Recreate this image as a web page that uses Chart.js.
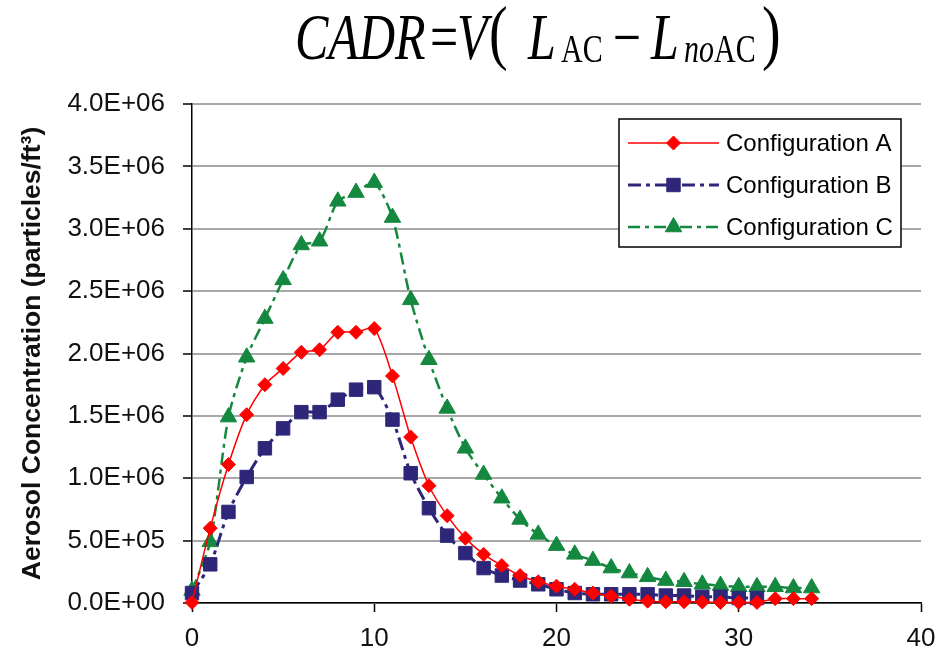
<!DOCTYPE html>
<html>
<head>
<meta charset="utf-8">
<script src="https://cdn.jsdelivr.net/npm/chart.js@4/dist/chart.umd.min.js"></script>
<style>
html,body{margin:0;padding:0;background:#fff;}
#wrap{position:relative;width:937px;height:658px;overflow:hidden;}
#c{position:absolute;left:0;top:0;}
#title{position:absolute;left:0;top:0;width:937px;height:70px;
  font-family:"Liberation Serif","Times New Roman",serif;color:#000;white-space:nowrap;
  transform:scaleY(1.3);transform-origin:0 0;}
#title span{position:absolute;line-height:1;}
#title .it{font-style:italic;}
#title .big{font-size:50px;top:2.7px;}
#title .sub{font-size:30px;top:22.6px;}
#title .par{font-size:56px;top:-4px;}
</style>
</head>
<body>
<div id="wrap">
<canvas id="c" width="937" height="658"></canvas>
<div id="title"><span class="big it" style="left:295px">CADR</span><span class="big" style="left:430px">=</span><span class="big it" style="left:457px">V</span><span class="par" style="left:489px">(</span><span class="big it" style="left:528px">L</span><span class="sub" style="left:561px">AC</span><span class="big" style="left:613px">&#8722;</span><span class="big it" style="left:651px">L</span><span class="sub" style="left:684px"><i>no</i>AC</span><span class="par" style="left:762px">)</span></div>
</div>
<script>
// ---- data (time in minutes, concentration in particles/ft^3) ----
const minutesAC = [0,1,2,3,4,5,6,7,8,9,10,11,12,13,14,15,16,17,18,19,20,21,22,23,24,25,26,27,28,29,30,31,32,33,34];
const minutesB  = [0,1,2,3,4,5,6,7,8,9,10,11,12,13,14,15,16,17,18,19,20,21,22,23,24,25,26,27,28,29,30,31];
const configA = [5000,600000,1110000,1510000,1750000,1880000,2010000,2030000,2170000,2170000,2200000,1820000,1330000,940000,700000,520000,390000,300000,220000,170000,135000,110000,80000,55000,30000,15000,10000,10000,8000,5000,5000,5000,35000,35000,35000];
const configB = [80000,310000,730000,1010000,1240000,1400000,1530000,1530000,1630000,1710000,1730000,1470000,1040000,760000,540000,400000,280000,220000,180000,150000,110000,80000,70000,70000,70000,70000,60000,60000,50000,50000,40000,40000];
const configC = [100000,490000,1490000,1970000,2280000,2590000,2870000,2900000,3220000,3290000,3370000,3090000,2430000,1950000,1560000,1240000,1030000,840000,670000,550000,460000,390000,340000,280000,240000,210000,180000,170000,150000,140000,130000,130000,130000,120000,120000];
const seriesLabels = ["Configuration A","Configuration B","Configuration C"];
const xTicks = [0,10,20,30,40];
const yTickStep = 500000;
const yMax = 4000000;

function pts(xs, ys){ return ys.map((v,i)=>({x:xs[i], y:v})); }
function sci(v){
  if (v === 0) return '0.0E+00';
  const e = Math.floor(Math.log10(v) + 1e-9);
  const m = v / Math.pow(10, e);
  return m.toFixed(1) + 'E+' + String(e).padStart(2,'0');
}

const FONT = '"Liberation Sans", Arial, sans-serif';

function drawMarker(ctx, style, r, x, y, color){
  ctx.save();
  ctx.fillStyle = color; ctx.strokeStyle = color; ctx.lineWidth = 1; ctx.setLineDash([]);
  ctx.beginPath();
  if (style === 'rectRot'){
    ctx.moveTo(x, y - r); ctx.lineTo(x + r, y); ctx.lineTo(x, y + r); ctx.lineTo(x - r, y);
  } else if (style === 'rect'){
    const s = Math.SQRT1_2 * r; ctx.rect(x - s, y - s, 2*s, 2*s);
  } else if (style === 'triangle'){
    ctx.moveTo(x, y - r);
    ctx.lineTo(x + r*Math.sin(2*Math.PI/3), y - r*Math.cos(2*Math.PI/3));
    ctx.lineTo(x - r*Math.sin(2*Math.PI/3), y - r*Math.cos(2*Math.PI/3));
  }
  ctx.closePath(); ctx.fill(); ctx.stroke();
  ctx.restore();
}

const boxLegend = {
  id: 'boxLegend',
  afterDraw(chart){
    const ctx = chart.ctx, ca = chart.chartArea;
    const bx = ca.right - 302, by = ca.top + 15, bw = 282, bh = 128;
    ctx.save();
    ctx.fillStyle = '#fff'; ctx.fillRect(bx, by, bw, bh);
    ctx.strokeStyle = '#000'; ctx.lineWidth = 1.5; ctx.setLineDash([]);
    ctx.strokeRect(bx, by, bw, bh);
    chart.data.datasets.forEach((ds, i) => {
      const y = by + 24 + i * 42;
      const x0 = bx + 9, x1 = bx + 100, xm = (x0 + x1) / 2;
      ctx.save();
      ctx.strokeStyle = ds.borderColor; ctx.lineWidth = ds.borderWidth;
      ctx.setLineDash(ds.borderDash || []);
      ctx.beginPath(); ctx.moveTo(x0, y); ctx.lineTo(x1, y); ctx.stroke();
      ctx.restore();
      drawMarker(ctx, ds.pointStyle, ds.pointRadius, xm, y, ds.pointBackgroundColor);
      ctx.fillStyle = '#000'; ctx.font = '24px ' + FONT;
      ctx.textBaseline = 'middle'; ctx.textAlign = 'left';
      ctx.fillText(ds.label, bx + 107, y + 1);
    });
    ctx.restore();
  }
};

const red = '#FF0000', navy = '#2E2779', green = '#14883E';

new Chart(document.getElementById('c'), {
  type: 'line',
  data: {
    datasets: [
      { label: seriesLabels[0], data: pts(minutesAC, configA), borderColor: red, backgroundColor: red,
        pointBackgroundColor: red, pointBorderColor: red, borderWidth: 1.5, pointStyle: 'rectRot', pointRadius: 7,
        pointBorderWidth: 1, tension: 0.25, clip: false, order: 1 },
      { label: seriesLabels[1], data: pts(minutesB, configB), borderColor: navy, backgroundColor: navy,
        pointBackgroundColor: navy, pointBorderColor: navy, borderWidth: 3, borderDash: [13,5,4,5], pointStyle: 'rect', pointRadius: 9.5,
        pointBorderWidth: 1, tension: 0.25, clip: false, order: 2 },
      { label: seriesLabels[2], data: pts(minutesAC, configC), borderColor: green, backgroundColor: green,
        pointBackgroundColor: green, pointBorderColor: green, borderWidth: 2.5, borderDash: [12,5,4,5], pointStyle: 'triangle', pointRadius: 9.5,
        pointBorderWidth: 1, tension: 0.25, clip: false, order: 3 }
    ]
  },
  options: {
    responsive: false,
    animation: false,
    devicePixelRatio: 1,
    layout: { padding: { left: 0, top: 104, right: 16, bottom: 0 } },
    plugins: { legend: { display: false }, tooltip: { enabled: false }, title: { display: false } },
    scales: {
      x: {
        type: 'linear', min: xTicks[0], max: xTicks[xTicks.length-1],
        afterBuildTicks: (s) => { s.ticks = xTicks.map(v => ({value: v})); },
        afterFit: (s) => { s.height = 55; s.paddingLeft = 0; s.paddingRight = 0; },
        grid: { drawOnChartArea: false, drawTicks: true, tickLength: 9, tickColor: '#000', tickWidth: 1.5 },
        border: { color: '#000', width: 1.5 },
        ticks: { color: '#111', font: { family: FONT, size: 26 }, padding: 11, maxRotation: 0,
                 callback: (v) => String(v) }
      },
      y: {
        type: 'linear', min: 0, max: yMax,
        afterFit: (s) => { s.width = 192; s.paddingTop = 0; s.paddingBottom = 0; },
        grid: { color: '#A8A8A8', lineWidth: 2, drawTicks: true, tickLength: 9, tickColor: '#000', tickWidth: 1.5 },
        border: { color: '#000', width: 1.5 },
        ticks: { stepSize: yTickStep, color: '#111', font: { family: FONT, size: 26 }, padding: 18,
                 callback: (v) => sci(v) },
        title: { display: true, text: 'Aerosol Concentration (particles/ft³)', color: '#111',
                 font: { family: FONT, size: 26.5, weight: 'bold' }, padding: { top: 17, bottom: 0 } }
      }
    }
  },
  plugins: [boxLegend]
});
</script>
</body>
</html>
